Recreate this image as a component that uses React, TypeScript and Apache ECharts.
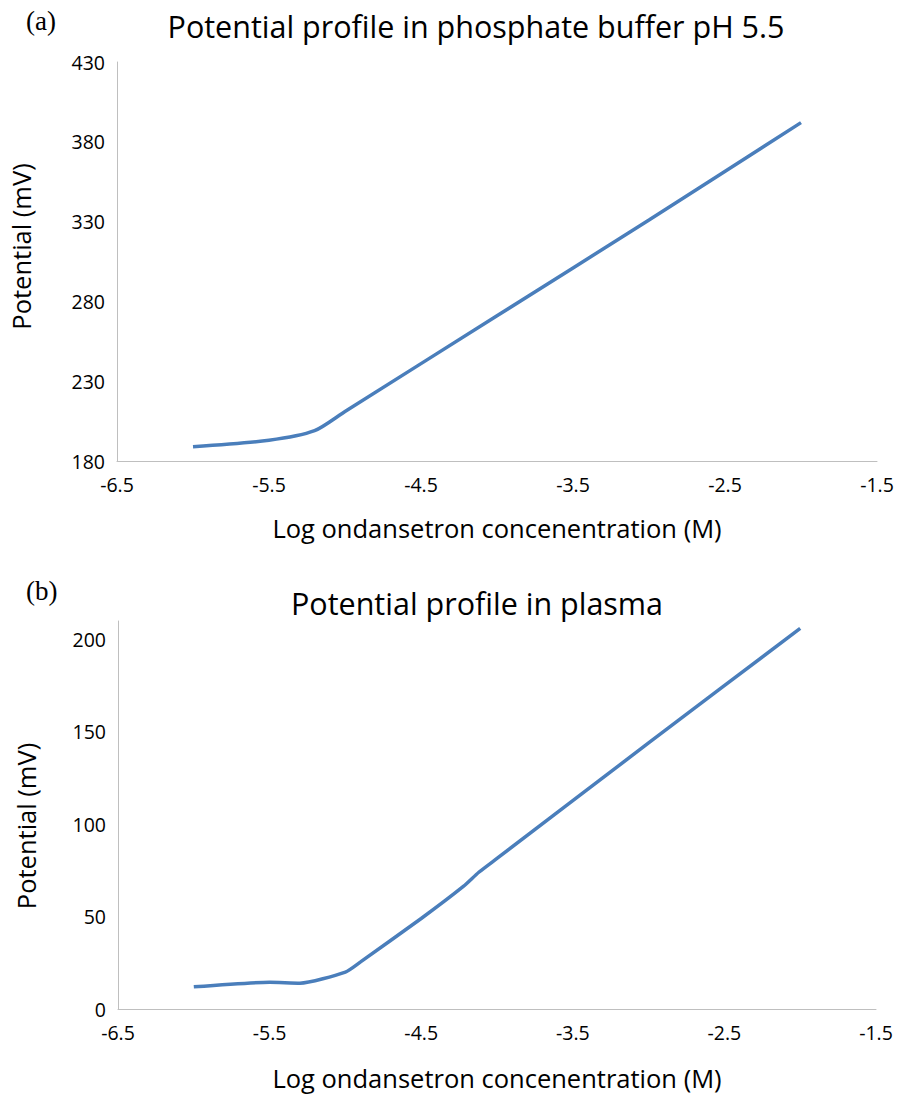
import React, { useEffect, useRef } from "react";
import * as echarts from "echarts";

const xTickLabels = [-6.5, -5.5, -4.5, -3.5, -2.5, -1.5];
const yTickLabelsA = [180, 230, 280, 330, 380, 430];
const yTickLabelsB = [0, 50, 100, 150, 200];

const logConcA = [-6, -5.5, -5.2, -5, -4, -3, -2];
const potentialA = [189, 193, 199, 211, 271, 331, 392];

const logConcB = [-6, -5.5, -5.3, -5, -4.9, -4.5, -4.22, -4.12, -4, -3, -2];
const potentialB = [12, 14.5, 14, 20, 25.5, 49, 66.5, 74, 81.5, 144, 206];

const titleA = "Potential profile in phosphate buffer pH 5.5";
const titleB = "Potential profile in plasma";
const xName = "Log ondansetron concenentration (M)";
const yName = "Potential (mV)";

const FONT = "Open Sans";
const AXIS_COLOR = "#BFBFBF";
const LINE_COLOR = "#4A7EBB";

function xAxisCfg(gridIndex: number, nameGap: number) {
  return {
    type: "value",
    gridIndex,
    min: -6.5,
    max: -1.5,
    name: xName,
    nameLocation: "middle",
    nameGap,
    nameTextStyle: { fontFamily: FONT, fontSize: 25.5, color: "#000" },
    axisLine: { show: true, lineStyle: { color: AXIS_COLOR, width: 1 } },
    axisTick: { show: false },
    splitLine: { show: false },
    axisLabel: {
      customValues: xTickLabels,
      formatter: (v: number) => v.toFixed(1),
      fontFamily: FONT,
      fontSize: 19.5,
      color: "#000",
      margin: 13,
    },
  };
}

function yAxisCfg(
  gridIndex: number,
  min: number,
  max: number,
  ticks: number[],
  nameGap: number,
  namePadding: number[]
) {
  return {
    type: "value",
    gridIndex,
    min,
    max,
    name: yName,
    nameLocation: "middle",
    nameGap,
    nameTextStyle: { fontFamily: FONT, fontSize: 25.5, color: "#000", padding: namePadding },
    axisLine: { show: true, lineStyle: { color: AXIS_COLOR, width: 1 } },
    axisTick: { show: false },
    splitLine: { show: false },
    axisLabel: {
      customValues: ticks,
      fontFamily: FONT,
      fontSize: 19.5,
      color: "#000",
      margin: 12,
    },
  };
}

export default function App() {
  const ref = useRef<HTMLDivElement>(null);
  useEffect(() => {
    const chart = echarts.init(ref.current!, null, { renderer: "svg" });
    const option = {
      animation: false,
      backgroundColor: "#fff",
      title: [
        {
          text: titleA,
          left: 471,
          top: 5,
          textAlign: "center",
          textStyle: { fontFamily: FONT, fontSize: 30.5, fontWeight: "normal", color: "#000" },
        },
        {
          text: titleB,
          left: 472,
          top: 582,
          textAlign: "center",
          textStyle: { fontFamily: FONT, fontSize: 30.5, fontWeight: "normal", color: "#000" },
        },
      ],
      graphic: [
        {
          type: "text",
          left: 26,
          top: 7,
          style: { text: "(a)", fontFamily: "Liberation Serif", fontSize: 27, fill: "#000" },
        },
        {
          type: "text",
          left: 26,
          top: 577,
          style: { text: "(b)", fontFamily: "Liberation Serif", fontSize: 27, fill: "#000" },
        },
      ],
      grid: [
        { left: 112, right: 21, top: 62, height: 399, containLabel: false },
        { left: 118, right: 22, top: 621, height: 388, containLabel: false },
      ],
      xAxis: [xAxisCfg(0, 54), xAxisCfg(1, 56)],
      yAxis: [
        yAxisCfg(0, 180, 430, yTickLabelsA, 83, [0, 0, 0, 30]),
        yAxisCfg(1, 0, 210, yTickLabelsB, 79, [0, 22, 0, 0]),
      ],
      series: [
        {
          type: "line",
          xAxisIndex: 0,
          yAxisIndex: 0,
          data: logConcA.map((x, i) => [x, potentialA[i]]),
          showSymbol: false,
          smooth: 0.25,
          lineStyle: { color: LINE_COLOR, width: 3.5 },
        },
        {
          type: "line",
          xAxisIndex: 1,
          yAxisIndex: 1,
          data: logConcB.map((x, i) => [x, potentialB[i]]),
          showSymbol: false,
          smooth: 0.2,
          lineStyle: { color: LINE_COLOR, width: 3.5 },
        },
      ],
    };
    chart.setOption(option as any);
    return () => chart.dispose();
  }, []);
  return (
    <div
      ref={ref}
      style={{ position: "fixed", left: 0, top: 0, width: 898, height: 1095, background: "#fff" }}
    />
  );
}
